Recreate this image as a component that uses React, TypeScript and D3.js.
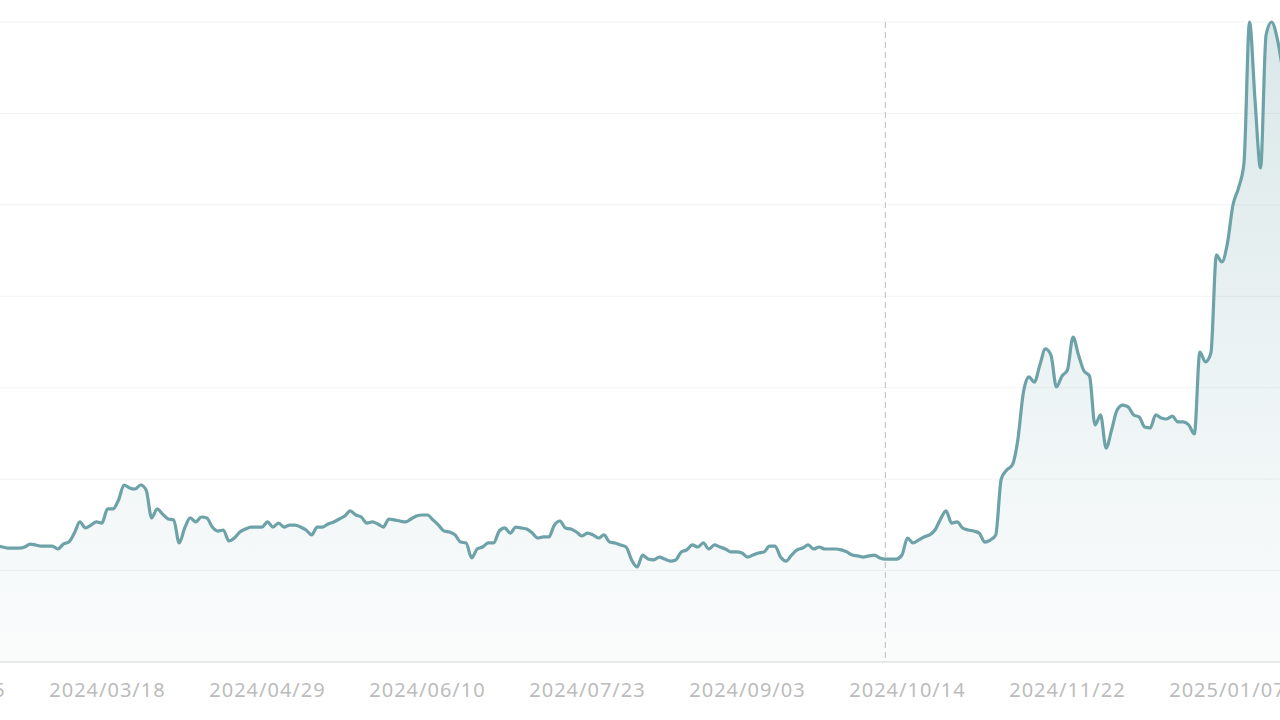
import React from "react";
import * as d3 from "d3";

// ---- data ----
const startDate = "2024-02-05";
const marketHolidays = [
  "2024-02-19", "2024-03-29", "2024-05-27", "2024-06-19", "2024-07-04",
  "2024-09-02", "2024-11-28", "2024-12-25", "2025-01-01", "2025-01-09", "2025-01-20",
];
const values = [
  6.34, 6.29, 6.23, 6.34, 6.29, 6.23, 6.29, 6.34, 6.29, 6.34,
  6.29, 6.23, 6.23, 6.23, 6.29, 6.45, 6.40, 6.34, 6.34, 6.34,
  6.18, 6.45, 6.56, 7.05, 7.66, 7.33, 7.49, 7.66, 7.60, 8.37,
  8.37, 8.86, 9.68, 9.52, 9.46, 9.68, 9.41, 7.88, 8.37, 8.09,
  7.82, 7.77, 6.51, 7.33, 7.88, 7.66, 7.93, 7.88, 7.38, 7.16,
  7.22, 6.62, 6.78, 7.11, 7.27, 7.38, 7.38, 7.38, 7.66, 7.38,
  7.60, 7.38, 7.49, 7.49, 7.38, 7.22, 6.95, 7.38, 7.38, 7.55,
  7.66, 7.82, 7.98, 8.26, 8.04, 7.93, 7.60, 7.66, 7.55, 7.38,
  7.82, 7.77, 7.71, 7.66, 7.82, 7.98, 8.04, 8.04, 7.77, 7.49,
  7.16, 7.11, 6.95, 6.56, 6.51, 5.69, 6.18, 6.29, 6.51, 6.51,
  7.16, 7.33, 7.05, 7.38, 7.33, 7.27, 7.05, 6.78, 6.84, 6.84,
  7.49, 7.71, 7.33, 7.27, 7.11, 6.89, 7.05, 6.95, 6.78, 6.95,
  6.56, 6.51, 6.40, 6.29, 5.58, 5.20, 5.85, 5.63, 5.58, 5.74,
  5.63, 5.52, 5.58, 6.02, 6.13, 6.40, 6.29, 6.51, 6.18, 6.40,
  6.29, 6.18, 6.02, 6.02, 5.96, 5.74, 5.85, 5.96, 6.02, 6.34,
  6.34, 5.74, 5.52, 5.85, 6.13, 6.23, 6.40, 6.18, 6.29, 6.18,
  6.18, 6.18, 6.13, 6.02, 5.85, 5.80, 5.74, 5.80, 5.85, 5.69,
  5.63, 5.63, 5.63, 5.85, 6.78, 6.51, 6.67, 6.84, 6.95, 7.22,
  7.82, 8.26, 7.60, 7.66, 7.33, 7.22, 7.16, 7.05, 6.56, 6.67,
  6.95, 10.01, 10.50, 10.77, 12.14, 14.71, 15.59, 15.31, 16.24, 17.12,
  16.79, 15.04, 15.64, 15.97, 17.77, 16.79, 15.91, 15.64, 12.96, 13.51,
  11.70, 12.69, 13.78, 14.05, 13.95, 13.51, 13.40, 12.85, 12.80, 13.51,
  13.34, 13.29, 13.45, 13.13, 13.13, 12.96, 12.47, 16.95, 16.41, 16.90,
  22.26, 21.88, 22.91, 24.99, 25.92, 27.29, 35.0, 30.73, 27.02, 34.29,
  35.0, 34.13, 32.38,
];
const tickLabels = [
  "2024/02/05", "2024/03/18", "2024/04/29", "2024/06/10", "2024/07/23",
  "2024/09/03", "2024/10/14", "2024/11/22", "2025/01/07",
];
const markLineDate = "2024/10/08";
const yMax = 35;
const yTickCount = 7;

// ---- helpers ----
function tradingDays(start: string, n: number): string[] {
  const out: string[] = [];
  const hol = new Set(marketHolidays);
  const d = new Date(start + "T00:00:00Z");
  while (out.length < n) {
    const iso = d.toISOString().slice(0, 10);
    const wd = d.getUTCDay();
    if (wd !== 0 && wd !== 6 && !hol.has(iso)) out.push(iso.replace(/-/g, "/"));
    d.setUTCDate(d.getUTCDate() + 1);
  }
  return out;
}

const dates = tradingDays(startDate, values.length);

export default function App() {
  const W = 1280;
  const H = 720;
  const top = 22;
  const bottom = 662;
  const step = 5.517;
  const x0 = -52.5;

  const x = d3
    .scalePoint<string>()
    .domain(dates)
    .range([x0, x0 + step * (dates.length - 1)]);
  const y = d3.scaleLinear().domain([0, yMax]).range([bottom, top]);

  const pts = dates.map((d, i) => ({ d, v: values[i] }));
  const line = d3
    .line<{ d: string; v: number }>()
    .x((p) => x(p.d) as number)
    .y((p) => y(p.v))
    .curve(d3.curveMonotoneX);
  const area = d3
    .area<{ d: string; v: number }>()
    .x((p) => x(p.d) as number)
    .y0(bottom)
    .y1((p) => y(p.v))
    .curve(d3.curveMonotoneX);

  const grid = y.ticks(yTickCount);
  const color = "#6ca2a8";
  const mx = x(markLineDate) as number;

  return (
    <svg
      width={W}
      height={H}
      style={{ position: "fixed", left: 0, top: 0, background: "#fff" }}
      fontFamily="'Noto Sans', sans-serif"
    >
      <defs>
        <linearGradient id="fillGrad" gradientUnits="userSpaceOnUse" x1="0" y1={top} x2="0" y2={bottom}>
          <stop offset="0" stopColor={color} stopOpacity={0.25} />
          <stop offset="1" stopColor={color} stopOpacity={0.03} />
        </linearGradient>
        <clipPath id="plotClip">
          <rect x={-100} y={0} width={W + 200} height={bottom} />
        </clipPath>
      </defs>
      {grid.map((t) => (
        <line
          key={t}
          x1={0}
          x2={W}
          y1={y(t)}
          y2={y(t)}
          stroke={t === 0 ? "#e3e3e3" : "#f3f3f3"}
          strokeWidth={t === 0 ? 1.5 : 1}
        />
      ))}
      <g clipPath="url(#plotClip)">
        <path d={area(pts) || ""} fill="url(#fillGrad)" />
        <path d={line(pts) || ""} fill="none" stroke={color} strokeWidth={3.2} strokeLinejoin="round" strokeLinecap="round" />
      </g>
      <line x1={mx} x2={mx} y1={top} y2={bottom} stroke="#c8c8c8" strokeWidth={1.2} strokeDasharray="6,4" />
      {tickLabels.map((t) => (
        <text
          key={t}
          x={x(t) as number}
          y={697}
          textAnchor="middle"
          fontSize={20}
          letterSpacing={1}
          fill="#bcbcbc"
        >
          {t}
        </text>
      ))}
    </svg>
  );
}
